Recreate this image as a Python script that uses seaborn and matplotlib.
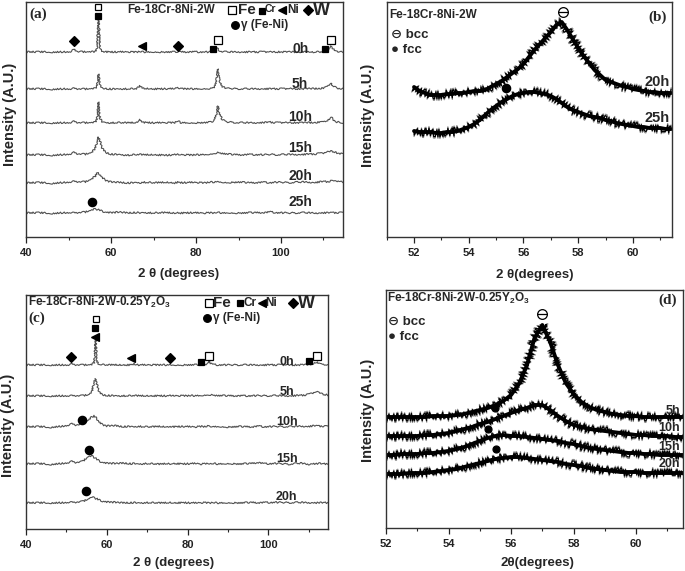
import numpy as np
import seaborn as sns
import matplotlib.pyplot as plt
from matplotlib.ticker import MultipleLocator

# ---- panel (a): Fe-18Cr-8Ni-2W, 40-115 deg, curves as height above their own baseline
a_tt = [40, 43, 46, 49, 50.5, 51.3, 52.1, 54, 55.5, 56.3, 56.7, 57.05, 57.4, 57.9, 58.8, 60,
        62, 64, 66, 66.8, 67.6, 70, 73, 75, 75.7, 76.4, 79, 82, 83.5, 84.3, 84.8, 85.1, 85.5,
        86.2, 87.5, 90, 93, 96, 97.5, 99, 102, 105, 108, 110, 111, 111.7, 112.4, 113.2, 114.6]
a_0h = [0, 0.2, 0, 0.1, 0.5, 3, 0.4, 0.1, 0.2, 0.5, 3, 38, 4, 0.8, 0.2, 0,
        0.1, 0, 0, 0.3, 0, 0.1, 0, 0, 0.3, 0, 0.1, 0, 0, 0.3, 1.5, 4, 1.5,
        0.3, 0, 0.1, 0, 0.1, 0, 0.1, 0, 0.1, 0, 0.3, 2, 6, 2.5, 0.5, 0]
a_5h = [0, 0.3, -0.2, 0.2, 0.2, 1, 0.2, 0, 0.3, 0.6, 3, 15, 4, 1, 0.3, 0,
        0.2, 0.1, 0.3, 3, 0.6, 0.1, 0.2, 0.3, 1.5, 0.3, 0.1, 0.3, 0.6, 2, 8, 20, 9,
        2, 0.5, 0.2, 0.1, 0.3, 0.1, 0.2, 0.3, 0.2, 0.4, 0.8, 2.5, 6, 2.5, 0.8, 0.3]
a_10h = [0, 0.3, 0.1, 0.3, 0.6, 2, 0.5, 0.2, 0.4, 0.8, 4, 21, 5, 1.2, 0.4, 0.2,
         0.3, 0.2, 0.4, 3.5, 0.6, 0.2, 0.3, 0.4, 2, 0.4, 0.2, 0.4, 0.8, 2.5, 9, 17, 10,
         3, 1, 0.3, 0.2, 0.5, 0.8, 0.3, 0.4, 0.3, 0.5, 1, 2.5, 6, 3, 1, 0.3]
a_15h = [0, 0.4, -0.2, 0.5, 1.2, 3, 1.2, 0.8, 2.5, 7, 13, 18, 14, 7, 2.5, 0.8,
         0.5, -0.2, 0.4, 0.6, 0.2, 0.3, -0.2, 0.3, 0.5, 0.2, 0, 0.5, 1, 1.8, 2.2, 2.4, 2.2,
         1.6, 0.8, 0.2, 0.4, 0.2, 0.6, 0.3, 0.5, 0.6, 1, 2, 3, 4, 3.5, 2, 1]
a_20h = [0, 0.6, -0.3, 0.6, 1.2, 2, 1.3, 1.2, 4, 7, 9.5, 10, 8.5, 5.5, 2.5, 1,
         0.8, 0, 0.6, 0.2, 0.8, 0.2, 0.7, 0.1, 0.8, 0.3, 0.6, 0.2, 0.8, 1, 1.3, 1.2, 1.3,
         0.8, 0.5, 0.9, 0.2, 0.7, 0.3, 0.8, 0.4, 1, 0.6, 1.5, 1.2, 2.2, 1.5, 2, 0.8]
a_25h = [0, 0.4, -0.3, 0.3, 0.6, 0.5, 0.4, 1, 3, 4, 3.6, 3.2, 2.8, 1.8, 0.8, 0.3,
         1, 0.2, 0.5, 0.1, 0.5, 0, 0.4, -0.1, 0.4, 0, 0.3, -0.1, 0.3, 0, 0.4, 0.2, 0.4,
         0, 0.3, 0, 0.3, 0.4, 1, 0.3, 0, 0.3, 0, 0.3, 0.1, 0.4, 0.2, 0.4, 0.2]
a_series = [a_0h, a_5h, a_10h, a_15h, a_20h, a_25h]
a_offset = [185, 148, 114, 82, 54, 24]
a_hours = ["0h", "5h", "10h", "15h", "20h", "25h"]

# ---- panel (b): zoom 52-61.4 deg, 20h and 25h
b_tt = [52.0, 52.2, 52.4, 52.6, 52.8, 53.0, 53.2, 53.4, 53.6, 53.8, 54.0, 54.2, 54.4, 54.6, 54.8,
        55.0, 55.2, 55.4, 55.6, 55.8, 56.0, 56.2, 56.4, 56.6, 56.8, 57.0, 57.2, 57.4, 57.6, 57.8,
        58.0, 58.2, 58.4, 58.6, 58.8, 59.0, 59.2, 59.4, 59.6, 59.8, 60.0, 60.2, 60.4, 60.6, 60.8,
        61.0, 61.2, 61.4]
b_20h = [150, 146, 144, 142, 142, 142, 143, 143, 144, 144, 145, 146, 146, 147, 150,
         153, 156, 160, 164, 168, 173, 180, 187, 193, 199, 205, 212, 215, 207, 198,
         189, 181, 174, 167, 162, 157, 155, 153, 151, 150, 148, 147, 146, 145, 145,
         144, 144, 144]
b_25h = [106, 105, 105, 105, 104, 104, 105, 105, 106, 108, 110, 113, 117, 122, 127,
         131, 135, 138, 141, 143, 144, 145, 145, 144, 143, 141, 138, 134, 130, 127,
         125, 123, 121, 120, 119, 117, 116, 114, 113, 112, 111, 110, 110, 109, 109,
         109, 108, 108]
b_hours = ["20h", "25h"]

# ---- panel (c): Fe-18Cr-8Ni-2W-0.25Y2O3, 40-115 deg
c_tt = [40, 43, 46, 49, 50.5, 51.4, 52.3, 54, 55.5, 56.3, 56.9, 57.25, 57.6, 58.1, 59, 60,
        62, 64, 66, 66.8, 67.6, 70, 73, 75, 75.7, 76.4, 79, 82, 83.5, 84.5, 85, 85.3, 85.7,
        86.4, 87.5, 90, 93, 96, 97.5, 99, 102, 105, 108, 110, 111, 111.9, 112.6, 113.4, 114.8]
c_0h = [0, 0.1, 0, 0.1, 0.2, 1.2, 0.2, 0, 0.1, 0.4, 2.5, 27, 3, 0.6, 0.2, 0,
        0.1, 0, 0.1, 1, 0.1, 0, 0.1, 0, 0.2, 0, 0.1, 0.1, 0.2, 0.8, 2, 4, 1.5,
        0.3, 0.1, 0, 0.1, 0, 0.1, 0, 0.1, 0, 0.1, 0.3, 1.2, 3, 1.3, 0.3, 0]
c_5h = [0, 0.2, 0, 0.2, 0.3, 0.6, 0.3, 0.3, 1.2, 4, 15, 17, 11, 4, 1.2, 0.5,
        0.3, 0.1, 0.2, 0.4, 0.2, 0.1, 0.2, 0.1, 0.3, 0.1, 0.2, 0.3, 0.6, 1, 1.3, 1.4, 1.2,
        0.8, 0.4, 0.2, 0.1, 0.2, 0.3, 0.2, 0.3, 0.2, 0.5, 1.5, 3, 4, 3.5, 2, 0.8]
c_10h = [0, 0.5, -0.3, 0.8, 2, 3.5, 2, 3, 7, 10, 11, 9.5, 8, 5, 2, 1,
         1.5, 0.3, 0.6, 0.2, 0.7, 0, 0.5, 0.1, 0.6, 0.2, 0.5, 0, 0.6, 0.2, 0.8, 0.5, 0.7,
         0.2, 0.5, 0, 0.4, 0.1, 0.8, 0.2, 0.5, 0.3, 0.8, 0.6, 1, 1.2, 0.8, 0.9, 0.4]
c_15h = [0, 0.5, -0.4, 0.6, 1.5, 3, 1.5, 2.5, 7.5, 8, 6.5, 5.5, 4.5, 3, 1.5, 0.8,
         0.5, 1, 0.2, 0.6, 0, 0.4, -0.2, 0.4, 0, 0.5, 0.1, 0.5, -0.2, 0.4, 0.1, 0.5, 0,
         0.4, 0, 0.5, 0, 0.6, 1.5, 0.2, 0.5, -0.2, 0.8, -0.3, 0.5, 0.2, 0.6, -0.1, 0.3]
c_20h = [0, 0.3, 0.1, 0.3, 0.8, 1, 0.8, 1.5, 4, 6, 5, 4.5, 4, 3, 1.8, 1,
         0.7, 0.3, 0.2, 0.4, 0.1, 0.3, 0, 0.2, 0.4, 0.1, 0.3, 0, 0.2, 0.3, 0.1, 0.3, 0.1,
         0.2, 0, 0.3, 0.1, 0.5, 0.2, 0.4, 0.6, 0.3, 0.5, 0.3, 0.4, 0.2, 0.4, 0.1, 0.3]
c_series = [c_0h, c_5h, c_10h, c_15h, c_20h]
c_offset = [164, 133, 102, 65, 26]
c_hours = ["0h", "5h", "10h", "15h", "20h"]

# ---- panel (d): zoom 52-61.5 deg, 5h..20h
d_tt = [52.0, 52.25, 52.5, 52.75, 53.0, 53.25, 53.5, 53.75, 54.0, 54.25, 54.5, 54.75, 55.0,
        55.25, 55.5, 55.75, 56.0, 56.25, 56.5, 56.75, 57.0, 57.25, 57.5, 57.75, 58.0, 58.25,
        58.5, 58.75, 59.0, 59.25, 59.5, 59.75, 60.0, 60.25, 60.5, 60.75, 61.0, 61.25, 61.5]
d_5h = [111, 111, 111, 111, 111, 111, 112, 112, 112, 113, 114, 116, 118,
        120, 123, 127, 133, 144, 162, 190, 203, 186, 163, 145, 134, 126,
        121, 118, 116, 114, 113, 112, 112, 111, 111, 111, 111, 111, 111]
d_10h = [92, 92, 92, 92, 92, 93, 93, 94, 95, 97, 99, 101, 104,
         106, 109, 112, 115, 118, 120, 123, 123, 118, 112, 107, 103, 101,
         99, 98, 97, 96, 95, 94, 93, 93, 92, 92, 92, 91, 91]
d_15h = [73, 73, 74, 74, 74, 75, 75, 76, 77, 79, 81, 84, 87,
         90, 92, 93, 92, 92, 91, 90, 89, 88, 87, 85, 84, 82,
         80, 79, 78, 77, 76, 75, 75, 74, 74, 73, 73, 73, 73]
d_20h = [54, 54, 54, 55, 55, 55, 56, 57, 58, 59, 61, 63, 65,
         67, 69, 70, 71, 71, 70, 69, 68, 67, 66, 64, 63, 62,
         60, 59, 58, 57, 56, 56, 56, 55, 55, 55, 55, 55, 55]
d_series = [d_5h, d_10h, d_15h, d_20h]
d_hours = ["5h", "10h", "15h", "20h"]

# label heights (data units of each panel)
a_label_y = [188, 153, 120, 89, 61, 35]
c_label_y = [167, 137, 107, 70, 32]
b_label_y = [155, 119]
d_label_y = [117, 100, 81, 64]

sns.set_style("ticks")
plt.rcParams["font.family"] = ["Liberation Sans", "DejaVu Sans"]
plt.rcParams["font.weight"] = "bold"
plt.rcParams["mathtext.default"] = "regular"

fig = plt.figure(figsize=(6.85, 5.71), dpi=100)
ax_a = fig.add_axes([0.0380, 0.5849, 0.4628, 0.4116])
ax_b = fig.add_axes([0.5645, 0.5849, 0.4165, 0.4116])
ax_c = fig.add_axes([0.0380, 0.0736, 0.4409, 0.4098])
ax_d = fig.add_axes([0.5635, 0.0753, 0.4336, 0.4168])


def style(ax, xlim, ylim, ticks, minor, xlab):
    ax.set_xlim(*xlim)
    ax.set_ylim(*ylim)
    ax.set_xticks(ticks)
    ax.set_xticklabels([str(t) for t in ticks], fontsize=8, fontweight="bold")
    ax.xaxis.set_minor_locator(MultipleLocator(minor))
    ax.set_yticks([])
    ax.tick_params(axis="x", which="major", direction="out", length=4, width=0.9,
                   colors="#222222", pad=4)
    ax.tick_params(axis="x", which="minor", direction="out", length=2.5, width=0.8)
    for sp in ax.spines.values():
        sp.set_visible(True)
        sp.set_color("#333333")
        sp.set_linewidth(1.0)
    ax.set_xlabel(xlab, fontsize=9.5, fontweight="bold")
    ax.set_ylabel("Intensity (A.U.)", fontsize=10.5, fontweight="bold")


def txt(ax, x, y, s, size, ha="left", **kw):
    ax.text(x, y, s, fontsize=size, fontweight="bold", ha=ha, va="center", **kw)


def mark(ax, x, y, m, ms, filled=True):
    ax.plot([x], [y], marker=m, ms=ms, ls="none", mec="black", mew=0.9,
            mfc="black" if filled else "white", clip_on=False)


def bcc(ax, x, y, ms=7):
    mark(ax, x, y, "o", ms, filled=False)
    ax.plot([x], [y], marker="_", ms=ms, mew=0.9, color="black", ls="none")


def thin_curve(ax, tt, vals, base):
    sns.lineplot(x=tt, y=[v + base for v in vals], ax=ax, color="#505050",
                 lw=0.8, sort=False, legend=False)
    ax.lines[-1].set_sketch_params(0.8, 1.5, 2)


def band_curve(ax, tt, vals):
    # noisy band: grey spikes, black spikes, solid black core
    sns.lineplot(x=tt, y=vals, ax=ax, color="#8c8c8c", lw=0.9, sort=False, legend=False)
    ax.lines[-1].set_sketch_params(5.5, 1.5, 3)
    sns.lineplot(x=tt, y=vals, ax=ax, color="black", lw=0.9, sort=False, legend=False)
    ax.lines[-1].set_sketch_params(4.0, 1.5, 3)
    sns.lineplot(x=tt, y=vals, ax=ax, color="black", lw=2.8, sort=False, legend=False)


# ---------- (a)
for vals, base in zip(a_series, a_offset):
    thin_curve(ax_a, a_tt, vals, base)
style(ax_a, (40, 114.6), (0, 235), [40, 60, 80, 100], 10, "2 θ (degrees)")
for h, y in zip(a_hours, a_label_y):
    txt(ax_a, 104.5, y, h, 10, ha="center")
txt(ax_a, 40.7, 223, "(a)", 11, family="Liberation Serif")
txt(ax_a, 63.8, 227, "Fe-18Cr-8Ni-2W", 8.5)
mark(ax_a, 88.4, 227, "s", 6, filled=False)
txt(ax_a, 89.9, 227, "Fe", 11)
mark(ax_a, 95.5, 226, "s", 4.5)
txt(ax_a, 96.2, 228, "Cr", 7.5)
mark(ax_a, 100.2, 227, "<", 6)
txt(ax_a, 101.4, 227, "Ni", 8.5)
mark(ax_a, 106.4, 227, "D", 5.5)
txt(ax_a, 107.5, 226, "W", 13)
mark(ax_a, 89.2, 212, "o", 5.5)
txt(ax_a, 90.6, 212, "γ (Fe-Ni)", 8.5)
mark(ax_a, 51.3, 196, "D", 5.5)
mark(ax_a, 57.0, 230, "s", 5, filled=False)
mark(ax_a, 57.0, 221, "s", 4)
mark(ax_a, 67.4, 191, "<", 6)
mark(ax_a, 75.8, 191, "D", 5.5)
mark(ax_a, 85.1, 197, "s", 6, filled=False)
mark(ax_a, 84.1, 188, "s", 4)
mark(ax_a, 110.4, 188, "s", 4)
mark(ax_a, 111.7, 197, "s", 6, filled=False)
mark(ax_a, 55.5, 35, "o", 6)

# ---------- (b)
band_curve(ax_b, b_tt, b_20h)
band_curve(ax_b, b_tt, b_25h)
style(ax_b, (51, 61.43), (0, 235), [52, 54, 56, 58, 60], 1, "2 θ(degrees)")
for h, y in zip(b_hours, b_label_y):
    txt(ax_b, 61.34, y, h, 10.5, ha="right")
txt(ax_b, 51.1, 222, "Fe-18Cr-8Ni-2W", 8.5)
txt(ax_b, 61.23, 220, "(b)", 11, ha="right", family="Liberation Serif")
txt(ax_b, 51.15, 202, "⊖ bcc", 9.5)
txt(ax_b, 51.15, 187, "● fcc", 9.5)
bcc(ax_b, 57.44, 225)
mark(ax_b, 55.37, 149, "o", 6)

# ---------- (c)
for vals, base in zip(c_series, c_offset):
    thin_curve(ax_c, c_tt, vals, base)
style(ax_c, (40, 114.8), (0, 234), [40, 60, 80, 100], 10, "2 θ (degrees)")
for h, y in zip(c_hours, c_label_y):
    txt(ax_c, 104.6, y, h, 9, ha="center")
txt(ax_c, 40.5, 227, "Fe-18Cr-8Ni-2W-0.25Y$_2$O$_3$", 8.5)
txt(ax_c, 40.7, 211, "(c)", 11, family="Liberation Serif")
mark(ax_c, 85.3, 226, "s", 6, filled=False)
txt(ax_c, 86.3, 226, "Fe", 11)
mark(ax_c, 93.0, 226, "s", 4.5)
txt(ax_c, 93.8, 226, "Cr", 8.5)
mark(ax_c, 98.5, 226, "<", 6)
txt(ax_c, 99.2, 226, "Ni", 8.5)
mark(ax_c, 106.1, 226, "D", 5.5)
txt(ax_c, 107.4, 225, "W", 13)
mark(ax_c, 84.8, 211, "o", 5.5)
txt(ax_c, 86.3, 211, "γ (Fe-Ni)", 8.5)
mark(ax_c, 51.2, 172, "D", 5.5)
mark(ax_c, 57.3, 210, "s", 5, filled=False)
mark(ax_c, 57.1, 201, "s", 4.5)
mark(ax_c, 57.0, 192, "<", 6)
mark(ax_c, 66.0, 171, "<", 6)
mark(ax_c, 75.7, 171, "D", 5.5)
mark(ax_c, 83.4, 167, "s", 4.5)
mark(ax_c, 85.4, 173, "s", 6, filled=False)
mark(ax_c, 110.2, 168, "s", 4.5)
mark(ax_c, 112.1, 173, "s", 6, filled=False)
mark(ax_c, 53.8, 109, "o", 6)
mark(ax_c, 55.5, 79, "o", 6)
mark(ax_c, 54.9, 38, "o", 6)

# ---------- (d)
for vals in d_series:
    band_curve(ax_d, d_tt, vals)
style(ax_d, (52, 61.5), (0, 238), [52, 54, 56, 58, 60], 1, "2θ(degrees)")
for h, y in zip(d_hours, d_label_y):
    txt(ax_d, 61.41, y, h, 9, ha="right")
txt(ax_d, 52.03, 230, "Fe-18Cr-8Ni-2W-0.25Y$_2$O$_3$", 8.5)
txt(ax_d, 61.31, 228, "(d)", 11, ha="right", family="Liberation Serif")
txt(ax_d, 52.06, 206, "⊖ bcc", 9.5)
txt(ax_d, 52.06, 191, "● fcc", 9.5)
bcc(ax_d, 56.99, 214)
mark(ax_d, 55.5, 120, "o", 5)
mark(ax_d, 55.26, 99, "o", 5)
mark(ax_d, 55.52, 79, "o", 5)

# axis label placement (figure pixel positions)
for ax, lx, ly, xx, xy in [(ax_a, 10, 114, 179, 274), (ax_b, 368, 115, 535, 275),
                           (ax_c, 8, 425, 174, 563), (ax_d, 368, 410, 537, 563)]:
    inv = ax.transAxes.inverted()
    p = inv.transform((lx, 571 - ly))
    ax.yaxis.set_label_coords(p[0], p[1])
    q = inv.transform((xx, 571 - xy))
    ax.xaxis.set_label_coords(q[0], q[1])
    ax.xaxis.label.set_va("center")
    ax.yaxis.label.set_va("center")

fig.savefig("out.png", dpi=100)
